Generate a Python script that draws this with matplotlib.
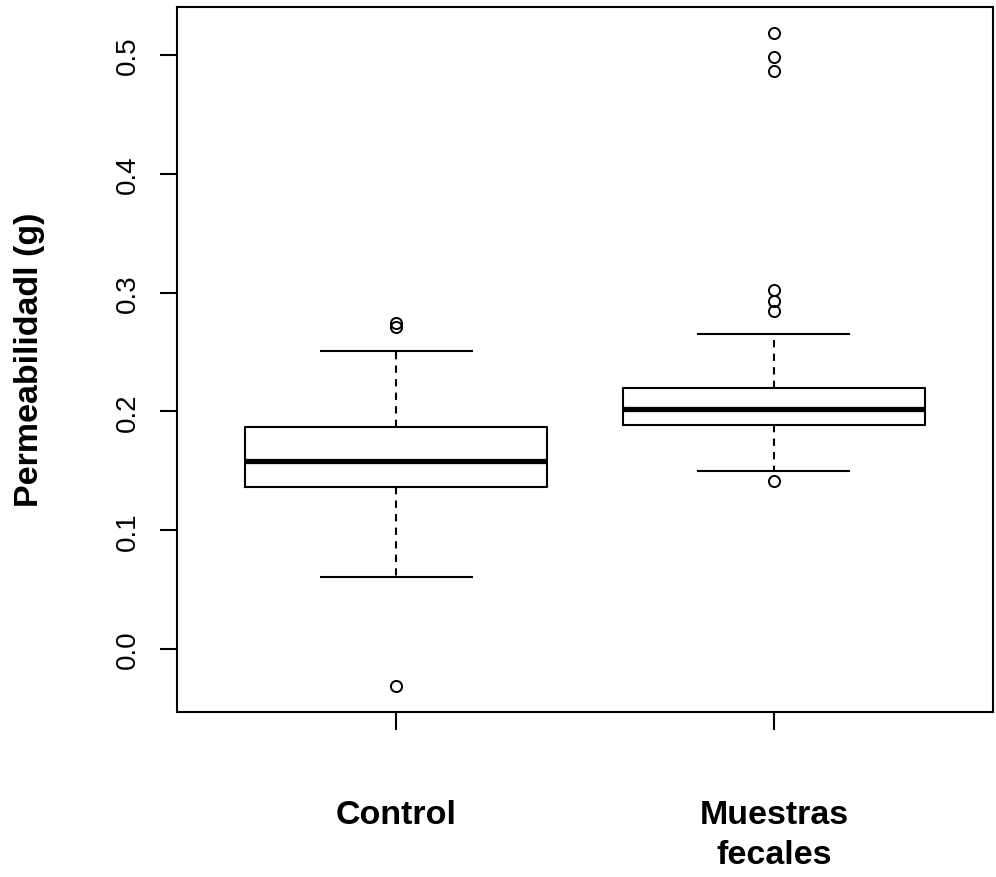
import matplotlib
matplotlib.use("Agg")
import matplotlib.pyplot as plt

# groups and box statistics
groups = ["Control", "Muestras\nfecales"]
whislo = [0.0603, 0.1500]
q1 = [0.1365, 0.1884]
med = [0.1584, 0.2018]
q3 = [0.1865, 0.2201]
whishi = [0.2509, 0.2649]
fliers = [
    [-0.0309, 0.2712, 0.2746],
    [0.1416, 0.2843, 0.2927, 0.3019, 0.4864, 0.4985, 0.5187],
]
yticks = [0.0, 0.1, 0.2, 0.3, 0.4, 0.5]

plt.rcParams['font.family'] = ['Liberation Sans', 'DejaVu Sans']

stats = []
for i in range(len(groups)):
    stats.append({
        'label': groups[i],
        'whislo': whislo[i], 'q1': q1[i], 'med': med[i],
        'q3': q3[i], 'whishi': whishi[i], 'fliers': fliers[i],
    })

fig = plt.figure(figsize=(9.96, 8.78), dpi=100)
ax = fig.add_axes([177 / 996, 165 / 878, 816 / 996, 705.5 / 878])

lw = 1.5
ax.bxp(stats, positions=[1, 2], widths=0.8, showfliers=True,
       boxprops=dict(color='black', linewidth=lw),
       medianprops=dict(color='black', linewidth=3.8, solid_capstyle='butt'),
       whiskerprops=dict(color='black', linewidth=lw, linestyle=(0, (3.5, 3))),
       capprops=dict(color='black', linewidth=lw),
       capwidths=0.4,
       flierprops=dict(marker='o', markersize=8, markerfacecolor='none',
                       markeredgecolor='black', markeredgewidth=1.4))

ax.set_xlim(0.42, 2.58)
ax.margins(y=0.04)
ax.set_yticks(yticks)
ax.set_yticklabels(["%.1f" % t for t in yticks], rotation=90, va='center')
ax.tick_params(axis='y', direction='out', length=12, width=lw,
               labelsize=20, pad=14)
ax.tick_params(axis='x', direction='out', length=13, width=lw,
               labelsize=24.5, pad=50)
for lab in ax.get_xticklabels():
    lab.set_fontweight('bold')
    lab.set_linespacing(1.37)
for s in ax.spines.values():
    s.set_linewidth(lw)

fig.text(30 / 996, 1 - 360 / 878, "Permeabilidadl (g)", rotation=90,
         ha='center', va='center', fontsize=24.5, fontweight='bold')

fig.savefig("out.png", dpi=100)
